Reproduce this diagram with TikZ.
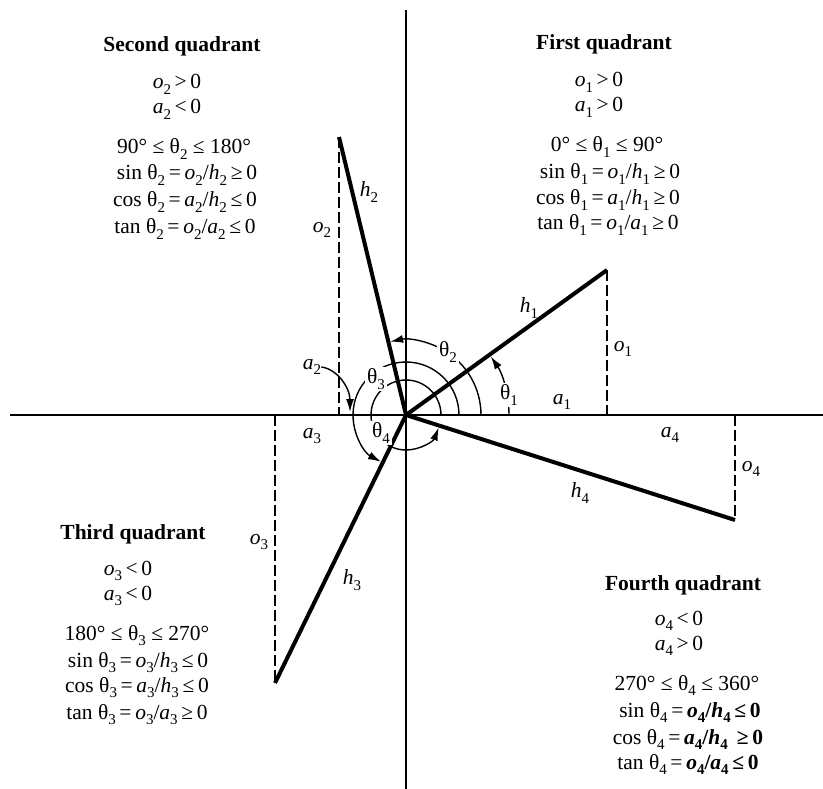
\documentclass[tikz,border=0pt]{standalone}
\usepackage{fontspec}
\setmainfont{Liberation Serif}
\usetikzlibrary{arrows.meta}
\newcommand\sbs[1]{\raisebox{-0.26em}{\fontsize{15}{15}\selectfont #1}}
\newcommand\vo[1]{\textit{o}\sbs{#1}}
\newcommand\va[1]{\textit{a}\sbs{#1}}
\newcommand\vh[1]{\textit{h}\sbs{#1}}
\newcommand\vt[1]{θ\sbs{#1}}
\newcommand\rl[1]{\hspace{0.17em}#1\hspace{0.17em}}
\begin{document}
\begin{tikzpicture}[x=1pt,y=-1pt,
  font=\fontsize{21.5}{26}\selectfont,
  every node/.style={inner sep=0pt},
  axisline/.style={line width=1.6pt},
  hyp/.style={line width=4pt},
  leg/.style={line width=1.6pt, dash pattern=on 11pt off 4pt},
  ang/.style={line width=1.4pt, -{Latex[length=13pt,width=8pt]}},
  tlbl/.style={fill=white, inner sep=2pt},
  head/.style={font=\fontsize{21.5}{26}\selectfont\bfseries, anchor=base},
  eq/.style={anchor=base}]
\fill[white] (0,0) rectangle (823,789);
\useasboundingbox (0,0) rectangle (823,789);
% points
\coordinate (O) at (406,415);
\coordinate (xl) at (10,415);
\coordinate (xr) at (823,415);
\coordinate (yt) at (406,10);
\coordinate (yb) at (406,789);
\coordinate (P1) at (607,270); \coordinate (F1) at (607,415);
\coordinate (P2) at (339,137); \coordinate (F2) at (339,415);
\coordinate (P3) at (275,683); \coordinate (F3) at (275,415);
\coordinate (P4) at (735,520); \coordinate (F4) at (735,415);
\coordinate (a2tip) at (350,412);
% axes
\draw[axisline] (xl) -- (xr);
\draw[axisline] (yt) -- (yb);
% legs
\draw[leg] (P1) -- (F1);
\draw[leg] (P2) -- (F2);
\draw[leg] (F3) -- (P3);
\draw[leg] (F4) -- (P4);
% angle arcs
\draw[ang] (O) ++(0:103pt) arc[start angle=0,end angle=34.6,radius=103pt];
\draw[ang] (O) ++(0:75pt) arc[start angle=0,end angle=102.2,radius=75pt];
\draw[ang] (O) ++(0:53pt) arc[start angle=0,end angle=241.9,radius=53pt];
\draw[ang] (O) ++(0:35pt) arc[start angle=0,end angle=339,radius=35pt];
% hypotenuses
\draw[hyp] (O) -- (P1);
\draw[hyp] (O) -- (P2);
\draw[hyp] (O) -- (P3);
\draw[hyp] (O) -- (P4);
% labels
\node (h1) at (529,308) {\vh{1}};
\node (o1) at (623,349) {\vo{1}};
\node (a1) at (562,402) {\va{1}};
\node (h2) at (369,192) {\vh{2}};
\node (o2) at (322,230) {\vo{2}};
\node (a2) at (312,367) {\va{2}};
\node (a3) at (312,436) {\va{3}};
\node (o3) at (259,542) {\vo{3}};
\node (h3) at (352,580) {\vh{3}};
\node (a4) at (670,435) {\va{4}};
\node (o4) at (751,469) {\vo{4}};
\node (h4) at (580,493) {\vh{4}};
\node[tlbl] (t1) at (509,395) {\vt{1}};
\node[tlbl] (t2) at (448,352) {\vt{2}};
\node[tlbl] (t3) at (376,379) {\vt{3}};
\node[tlbl] (t4) at (381,433) {\vt{4}};
\draw[ang] (a2.east) .. controls +(16,2) and +(0,-24) .. (a2tip);
% First quadrant
\node[head] (q1) at (604,50) {First quadrant};
\node[eq] (q1a) at (599,87) {\vo{1}\rl{>}0};
\node[eq] (q1b) at (599,112) {\va{1}\rl{>}0};
\node[eq] (q1c) at (607,152) {0° ≤ \vt{1} ≤ 90°};
\node[eq] (q1d) at (610,179) {sin \vt{1}\rl{=}\vo{1}/\vh{1}\rl{≥}0};
\node[eq] (q1e) at (608,205) {cos \vt{1}\rl{=}\va{1}/\vh{1}\rl{≥}0};
\node[eq] (q1f) at (608,230) {tan \vt{1}\rl{=}\vo{1}/\va{1}\rl{≥}0};
% Second quadrant
\node[head] (q2) at (182,52) {Second quadrant};
\node[eq] (q2a) at (177,89) {\vo{2}\rl{>}0};
\node[eq] (q2b) at (177,114) {\va{2}\rl{<}0};
\node[eq] (q2c) at (184,154) {90° ≤ \vt{2} ≤ 180°};
\node[eq] (q2d) at (187,180) {sin \vt{2}\rl{=}\vo{2}/\vh{2}\rl{≥}0};
\node[eq] (q2e) at (185,207) {cos \vt{2}\rl{=}\va{2}/\vh{2}\rl{≤}0};
\node[eq] (q2f) at (185,234) {tan \vt{2}\rl{=}\vo{2}/\va{2}\rl{≤}0};
% Third quadrant
\node[head] (q3) at (133,539) {Third quadrant};
\node[eq] (q3a) at (128,575) {\vo{3}\rl{<}0};
\node[eq] (q3b) at (128,600) {\va{3}\rl{<}0};
\node[eq] (q3c) at (137,640) {180° ≤ \vt{3} ≤ 270°};
\node[eq] (q3d) at (138,667) {sin \vt{3}\rl{=}\vo{3}/\vh{3}\rl{≤}0};
\node[eq] (q3e) at (137,692) {cos \vt{3}\rl{=}\va{3}/\vh{3}\rl{≤}0};
\node[eq] (q3f) at (137,719) {tan \vt{3}\rl{=}\vo{3}/\va{3}\rl{≥}0};
% Fourth quadrant
\node[head] (q4) at (683,590) {Fourth quadrant};
\node[eq] (q4a) at (679,625) {\vo{4}\rl{<}0};
\node[eq] (q4b) at (679,650) {\va{4}\rl{>}0};
\node[eq] (q4c) at (687,690) {270° ≤ \vt{4} ≤ 360°};
\node[eq] (q4d) at (690,717) {sin \vt{4}\rl{=}\textbf{\vo{4}/\vh{4}\rl{≤}0}};
\node[eq] (q4e) at (688,744) {cos \vt{4}\rl{=}\textbf{\va{4}/\vh{4} \rl{≥}0}};
\node[eq] (q4f) at (688,769) {tan \vt{4}\rl{=}\textbf{\vo{4}/\va{4}\rl{≤}0}};
\end{tikzpicture}
\end{document}
